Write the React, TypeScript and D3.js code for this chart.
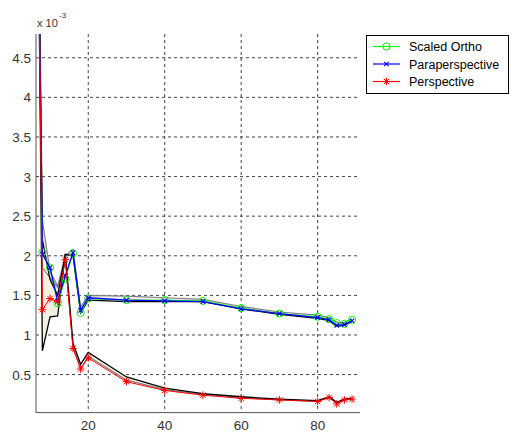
import React from "react";
import * as d3 from "d3";

const xs = [7, 8, 10, 12, 14, 16, 18, 20, 30, 40, 50, 60, 70, 80, 83, 85, 87, 89];
const ortho = [5.8, 2.04, 1.85, 1.40, 1.71, 2.03, 1.28, 1.46, 1.44, 1.44, 1.43, 1.34, 1.27, 1.23, 1.20, 1.15, 1.14, 1.19];
const para = [6.0, 2.02, 1.85, 1.43, 1.75, 2.04, 1.31, 1.47, 1.44, 1.43, 1.42, 1.33, 1.27, 1.22, 1.19, 1.12, 1.13, 1.18];
const persp = [6.2, 1.32, 1.46, 1.42, 1.95, 0.83, 0.57, 0.71, 0.41, 0.30, 0.24, 0.20, 0.18, 0.16, 0.21, 0.13, 0.18, 0.19];
const grayO = [6.5, 2.45, 1.80, 1.62, 2.0, 2.08, 1.35, 1.50, 1.49, 1.47, 1.45, 1.36, 1.29, 1.25, 1.22, 1.16, 1.16, 1.20];
const blackO = [6.0, 2.2, 1.70, 1.50, 2.02, 2.0, 1.28, 1.44, 1.42, 1.42, 1.42, 1.33, 1.26, 1.21, 1.18, 1.11, 1.12, 1.17];
const blackP = [6.0, 0.80, 1.23, 1.24, 2.02, 0.90, 0.63, 0.78, 0.47, 0.33, 0.26, 0.22, 0.19, 0.17, 0.22, 0.15, 0.19, 0.20];
const grayP = [5.5, 1.85, 1.72, 1.60, 1.95, 0.86, 0.58, 0.73, 0.43, 0.31, 0.25, 0.21, 0.18, 0.16, 0.21, 0.14, 0.18, 0.19];
const yTicks = [0.5, 1, 1.5, 2, 2.5, 3, 3.5, 4, 4.5];
const xTicks = [20, 40, 60, 80];
const legendNames = ["Scaled Ortho", "Paraperspective", "Perspective"];
const colors = ["#00ff00", "#0000ff", "#ff0000"];

const L = 36, R = 360, T = 34, B = 412.6;
const x = d3.scaleLinear().domain([6.33, 91.08]).range([L, R]);
const y = d3.scaleLinear().domain([0.02, 4.8]).range([B, T]);

const line = (vals: number[]) =>
  d3.line<number>().x((_, i) => x(xs[i])).y((v) => y(v))(vals) || "";
const band = (a: number[], b: number[]) =>
  d3.area<number>().x((_, i) => x(xs[i])).y0((v) => y(v)).y1((_, i) => y(b[i]))(a) || "";

function Marker({ kind, cx, cy, color }: { kind: number; cx: number; cy: number; color: string }) {
  if (kind === 0) return <circle cx={cx} cy={cy} r={3.6} fill="none" stroke={color} strokeWidth={1} />;
  if (kind === 1) {
    const s = 2.2;
    return (
      <path d={`M${cx - s},${cy - s}L${cx + s},${cy + s}M${cx - s},${cy + s}L${cx + s},${cy - s}`} stroke={color} strokeWidth={1.1} />
    );
  }
  const s = 3.8, d = 2.7;
  return (
    <path
      d={`M${cx - s},${cy}L${cx + s},${cy}M${cx},${cy - s}L${cx},${cy + s}M${cx - d},${cy - d}L${cx + d},${cy + d}M${cx - d},${cy + d}L${cx + d},${cy - d}`}
      stroke={color}
      strokeWidth={1}
    />
  );
}

export default function App() {
  const series = [ortho, para, persp];
  const widths = [1, 1.3, 1];
  return (
    <svg width={513} height={433} style={{ position: "absolute", left: 0, top: 0, background: "#fff" }} fontFamily="Arial, 'Liberation Sans', sans-serif">
      <defs>
        <clipPath id="pa">
          <rect x={L} y={T} width={R - L} height={B - T} />
        </clipPath>
      </defs>
      {yTicks.map((t) => (
        <line key={"gy" + t} x1={L} x2={R} y1={y(t)} y2={y(t)} stroke="#444" strokeDasharray="3,3" strokeWidth={1} />
      ))}
      {xTicks.map((t) => (
        <line key={"gx" + t} x1={x(t)} x2={x(t)} y1={T} y2={B} stroke="#444" strokeDasharray="3,3" strokeWidth={1} />
      ))}
      <g clipPath="url(#pa)">
        <path d={band(blackP, grayP)} fill="#f6efe4" />
        <path d={band(blackO, grayO)} fill="#eeeeee" />
        <path d={line(grayP)} fill="none" stroke="#808080" strokeWidth={1.2} />
        <path d={line(grayO)} fill="none" stroke="#808080" strokeWidth={1.2} />
        <path d={line(blackP)} fill="none" stroke="#000" strokeWidth={1.3} />
        <path d={line(blackO)} fill="none" stroke="#000" strokeWidth={1.3} />
        {series.map((s, k) => (
          <g key={"s" + k}>
            <path d={line(s)} fill="none" stroke={colors[k]} strokeWidth={widths[k]} />
            {s.map((v, i) => (
              <Marker key={i} kind={k} cx={x(xs[i])} cy={y(v)} color={colors[k]} />
            ))}
          </g>
        ))}
      </g>
      <line x1={L} x2={L} y1={T} y2={B} stroke="#555" strokeWidth={1} />
      <line x1={L} x2={R} y1={B} y2={B} stroke="#555" strokeWidth={1} />
      {yTicks.map((t) => (
        <text key={"ty" + t} x={31} y={y(t) + 5} textAnchor="end" fontSize={13.5} fill="#333">
          {String(t)}
        </text>
      ))}
      {xTicks.map((t) => (
        <text key={"tx" + t} x={x(t)} y={430} textAnchor="middle" fontSize={13.5} fill="#333">
          {String(t)}
        </text>
      ))}
      <text x={37} y={27} fontSize={11} fill="#333">x 10</text>
      <text x={59} y={18} fontSize={8} fill="#333">-3</text>
      <rect x={366.5} y={35.5} width={142} height={58} fill="#fff" stroke="#000" strokeWidth={1} />
      {legendNames.map((n, k) => {
        const ly = 46.5 + k * 17.5;
        return (
          <g key={n}>
            <line x1={373} x2={400} y1={ly} y2={ly} stroke={colors[k]} strokeWidth={1.2} />
            <Marker kind={k} cx={386.5} cy={ly} color={colors[k]} />
            <text x={409} y={ly + 4.5} fontSize={12.5} fill="#000">{n}</text>
          </g>
        );
      })}
    </svg>
  );
}
